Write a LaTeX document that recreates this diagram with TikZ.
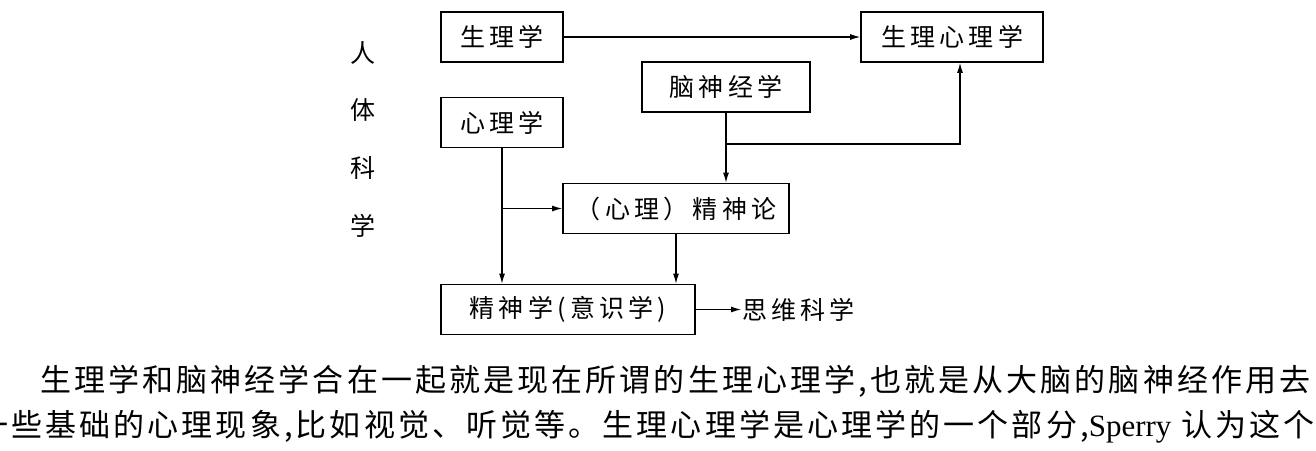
\documentclass[tikz,border=0pt]{standalone}
\usepackage{fontspec}
\usetikzlibrary{arrows.meta}
\setmainfont{Noto Sans CJK SC}
\newfontfamily\boxfont[LetterSpace=17]{Noto Sans CJK SC}
\newfontfamily\bodyfont[LetterSpace=10]{Noto Sans CJK SC}
\newfontfamily\latinfont{Liberation Serif}

\begin{document}
\begin{tikzpicture}[x=1pt,y=-1pt]
        \tikzset{box/.style={draw,line width=1.8pt,minimum height=50pt,inner sep=0pt,
                font=\boxfont\fontsize{25pt}{30pt}\selectfont},
            sidetext/.style={font=\boxfont\fontsize{25pt}{30pt}\selectfont,inner sep=0pt},
            bodytext/.style={font=\bodyfont\fontsize{31pt}{37pt}\selectfont,inner sep=0pt},
            link/.style={draw,line width=1.1pt,-{Latex[length=10pt,width=6pt]}}}
        \useasboundingbox (0,0) rectangle (1316,450);
        \clip (0,0) rectangle (1316,450);
        \foreach \ch [count=\i] in {人,体,科,学}
                \node[sidetext] (side\i) at (363,{53+57.5*(\i-1)}) {\ch};
        \node[box,minimum width=122pt] (shengli) at (502,37) {生理学};
        \node[box,minimum width=182pt] (shenglixinli) at (952,37) {生理心理学};
        \node[box,minimum width=168pt] (naoshen) at (726,87) {脑神经学};
        \node[box,minimum width=122pt] (xinli) at (502,122.5) {心理学};
        \node[box,minimum width=226pt] (jingshenlun) at (676,208.5) {（心理）精神论};
        \node[box,minimum width=254pt] (jingshenxue) at (568,309.5) {精神学(意识学)};
        \node[sidetext,anchor=west,inner sep=1pt] (siwei) at (741,309.5) {思维科学};
        \node[bodytext,anchor=west] (line1) at (40,381) {生理学和脑神经学合在一起就是现在所谓的生理心理学,也就是从大脑的脑神经作用去};
        \node[bodytext,anchor=east] (line2) at (1315,427) {一些基础的心理现象,比如视觉、听觉等。生理心理学是心理学的一个部分,{\latinfont Sperry} 认为这个};
        \coordinate (fork1) at (naoshen.south |- 0,144);
        \coordinate (fork2) at (xinli.south |- jingshenlun.west);
        \draw[link] (shengli) -- (shenglixinli);
        \draw[link] (naoshen.south) -- (naoshen.south |- jingshenlun.north);
        \draw[link] (fork1) -| ([xshift=8pt]shenglixinli.south);
        \draw[link] (xinli.south) -- (xinli.south |- jingshenxue.north);
        \draw[link] (fork2) -- (jingshenlun.west);
        \draw[link] (jingshenlun.south) -- (jingshenlun.south |- jingshenxue.north);
        \draw[link] (jingshenxue) -- (siwei);
\end{tikzpicture}
\end{document}
